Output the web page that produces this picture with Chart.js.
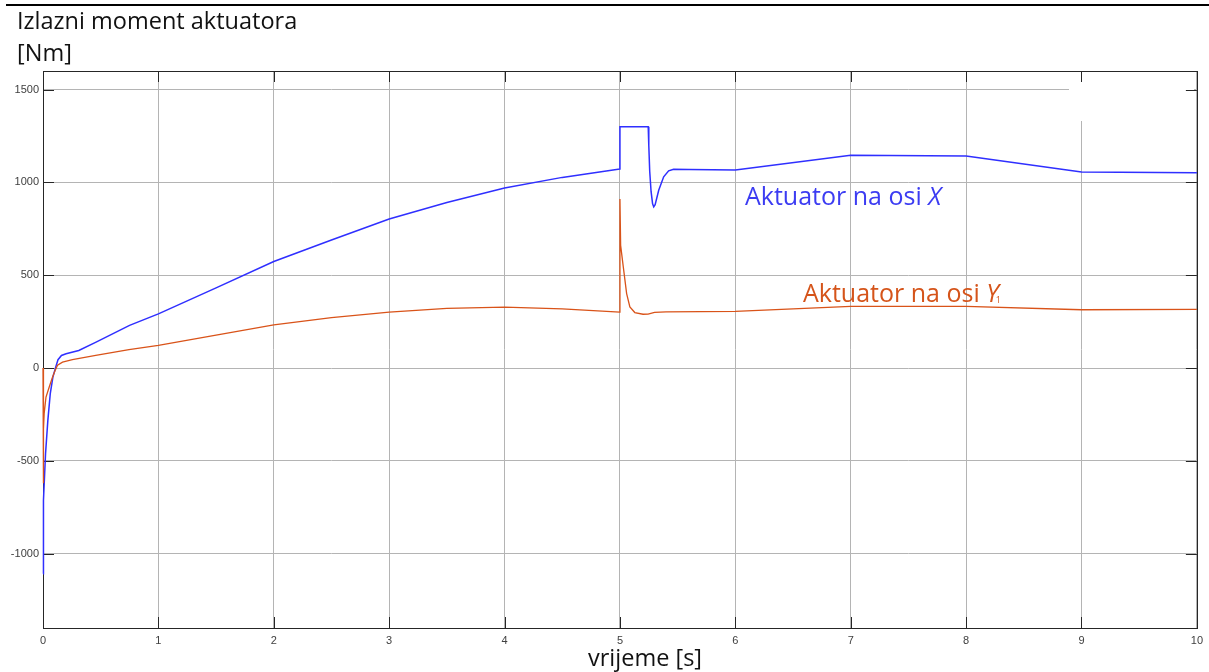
<!DOCTYPE html>
<html>
<head>
<meta charset="utf-8">
<title>Izlazni moment aktuatora</title>
<script src="https://cdn.jsdelivr.net/npm/chart.js@4.4.0/dist/chart.umd.min.js"></script>
<style>
  html, body { margin: 0; padding: 0; background: #fff; }
  #wrap { width: 1209px; height: 672px; position: relative; }
</style>
</head>
<body>
<div id="wrap"><canvas id="momentChart"></canvas></div>
<script>
// time [s] and torque [Nm]
const timeX = [0, 0.004, 0.022, 0.042, 0.063, 0.086, 0.11, 0.13, 0.16, 0.2, 0.31, 0.46, 0.75, 1, 1.5, 2, 2.5, 3, 3.5, 4, 4.5, 4.999,
  5.0, 5.245, 5.25, 5.258, 5.27, 5.283, 5.293, 5.305, 5.336, 5.379, 5.422, 5.465, 5.6, 6, 7, 8, 9, 10];
const torqueX = [-1108, -712, -461, -282, -138, -48, 5, 45, 68, 77, 95, 140, 230, 292, 432, 574, 690, 803, 892, 970, 1027, 1072,
  1300, 1300, 1200, 1060, 950, 885, 868, 880, 958, 1030, 1062, 1071, 1070, 1067, 1146, 1142, 1056, 1052];

const timeY = [0, 0.002, 0.006, 0.01, 0.026, 0.054, 0.083, 0.106, 0.126, 0.169, 0.255, 0.457, 0.745, 1, 1.5, 2, 2.5, 3, 3.5, 4, 4.5, 4.999,
  5.0, 5.006, 5.029, 5.058, 5.086, 5.129, 5.2, 5.244, 5.3, 5.4, 6, 7, 8, 9, 10];
const torqueY = [0, -620, -330, -246, -156, -102, -48, -12, 15, 32, 45, 68, 99, 122, 178, 233, 272, 301, 321, 328, 319, 301,
  911, 661, 545, 401, 329, 299, 290, 291, 300, 303, 305, 332, 332, 314, 316];

const xTickValues = [0, 1, 2, 3, 4, 5, 6, 7, 8, 9, 10];
const yTickValues = [-1000, -500, 0, 500, 1000, 1500];

const titleLines = ['Izlazni moment aktuatora', '[Nm]'];
const xTitle = 'vrijeme [s]';
const labelX = 'Aktuator na osi ';
const labelY = 'Aktuator na osi ';

const toPoints = (ts, vs) => ts.map((t, i) => ({ x: t, y: vs[i] }));

const axisColor = '#262626';
const gridColor = '#b4b4b4';
const blue = '#2f2fff';
const orange = '#D95319';
const textFont = '"Open Sans", Lato, sans-serif';

// box, inner ticks, titles and notes
const decorations = {
  id: 'decorations',
  beforeDatasetsDraw(chart) {
    const c = chart.ctx;
    const a = chart.chartArea;
    const xs = chart.scales.x;
    const ys = chart.scales.y;
    c.save();
    // white patch over the grid in the upper right
    c.fillStyle = '#fff';
    c.fillRect(1069, 81, 125, 40);

    // axes box
    c.strokeStyle = axisColor;
    c.lineWidth = 1;
    c.strokeRect(Math.round(a.left) + 0.5, Math.round(a.top) + 0.5,
      Math.round(a.right - a.left), Math.round(a.bottom - a.top));

    // inner ticks
    const len = 11;
    c.beginPath();
    yTickValues.forEach(v => {
      const y = Math.round(ys.getPixelForValue(v)) + 0.5;
      c.moveTo(a.left, y); c.lineTo(a.left + len, y);
      c.moveTo(a.right, y); c.lineTo(a.right - len, y);
    });
    xTickValues.forEach(v => {
      const x = Math.round(xs.getPixelForValue(v)) + 0.5;
      c.moveTo(x, a.bottom); c.lineTo(x, a.bottom - len);
      c.moveTo(x, a.top); c.lineTo(x, a.top + len);
    });
    c.stroke();
    c.restore();
  },
  afterDraw(chart) {
    const c = chart.ctx;
    c.save();

    // top rule
    c.strokeStyle = '#000';
    c.lineWidth = 2;
    c.beginPath();
    c.moveTo(6, 5);
    c.lineTo(1209, 5);
    c.stroke();

    c.textBaseline = 'alphabetic';
    c.textAlign = 'left';

    // chart title
    c.font = '23.5px ' + textFont;
    c.fillStyle = '#111';
    c.fillText(titleLines[0], 17, 29);
    c.fillText(titleLines[1], 17, 61);

    // series notes
    c.font = '25px ' + textFont;
    c.fillStyle = '#3c3cf2';
    c.fillText(labelX, 745, 205);
    let w = c.measureText(labelX).width;
    c.font = 'italic 25px ' + textFont;
    c.fillText('X', 745 + w, 205);

    c.font = '25px ' + textFont;
    c.fillStyle = '#d5541a';
    c.fillText(labelY, 803, 302);
    w = c.measureText(labelY).width;
    c.font = 'italic 25px ' + textFont;
    c.fillText('Y', 803 + w, 302);
    const wy = c.measureText('Y').width;
    c.font = '9px ' + textFont;
    c.fillText('1', 803 + w + wy - 3, 303);

    // x-axis title
    c.font = '23.5px ' + textFont;
    c.fillStyle = '#111';
    c.textAlign = 'center';
    c.fillText(xTitle, 645, 666);

    c.restore();
  }
};

const ctx = document.getElementById('momentChart');

new Chart(ctx, {
  type: 'line',
  data: {
    datasets: [
      {
        label: 'Aktuator na osi X',
        data: toPoints(timeX, torqueX),
        borderColor: blue,
        borderWidth: 1.5,
        pointRadius: 0,
        tension: 0,
        clip: false,
        order: 1
      },
      {
        label: 'Aktuator na osi Y1',
        data: toPoints(timeY, torqueY),
        borderColor: orange,
        borderWidth: 1.3,
        pointRadius: 0,
        tension: 0,
        clip: false,
        order: 0
      }
    ]
  },
  options: {
    responsive: true,
    maintainAspectRatio: false,
    devicePixelRatio: 1,
    animation: false,
    parsing: false,
    layout: { padding: { left: 0, right: 6, top: 71, bottom: 0 } },
    plugins: {
      legend: { display: false },
      tooltip: { enabled: false },
      title: { display: false }
    },
    scales: {
      x: {
        type: 'linear',
        min: 0,
        max: 10,
        afterBuildTicks: s => { s.ticks = xTickValues.map(v => ({ value: v })); },
        afterFit: s => { s.height = 44; },
        grid: { color: gridColor, drawTicks: false },
        border: { display: false },
        ticks: {
          padding: 6,
          color: '#404040',
          font: { family: '"Liberation Sans", Arial, sans-serif', size: 11 },
          maxRotation: 0,
          callback: v => String(v)
        }
      },
      y: {
        type: 'linear',
        min: -1400,
        max: 1600,
        afterBuildTicks: s => { s.ticks = yTickValues.map(v => ({ value: v })); },
        afterFit: s => { s.width = 43; },
        grid: { color: gridColor, drawTicks: false },
        border: { display: false },
        ticks: {
          padding: 4,
          color: '#404040',
          font: { family: '"Liberation Sans", Arial, sans-serif', size: 11 },
          callback: v => String(v)
        }
      }
    }
  },
  plugins: [decorations]
});
</script>
</body>
</html>
